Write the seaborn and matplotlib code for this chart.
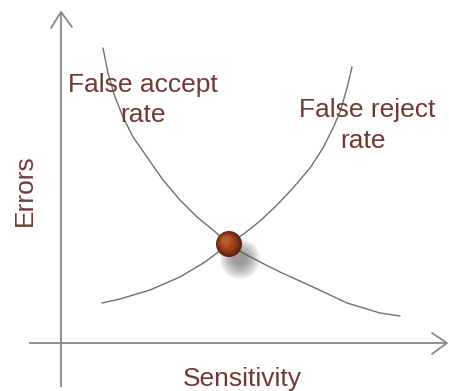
import numpy as np
import pandas as pd
import matplotlib
matplotlib.use("Agg")
import matplotlib.pyplot as plt
import seaborn as sns

# ---- data (schematic values) ----
far_sensitivity = [42, 47, 54, 62, 72, 86, 102, 119, 136, 152, 168, 182, 201, 219, 252, 286, 319, 339]
far_errors      = [295, 270, 246, 226, 206, 186, 163, 143, 126, 113, 99, 90, 80, 71, 56, 40, 30, 27]

frr_sensitivity = [41, 59, 89, 119, 144, 156, 168, 184, 199, 216, 232, 249, 262, 272, 279, 286, 291]
frr_errors      = [40, 44, 53, 66, 81, 90, 99, 110, 122, 138, 155, 175, 195, 215, 231, 255, 276]

eer_sensitivity = [168]
eer_errors = [99]

far_label = ["False accept", "rate"]
frr_label = ["False reject", "rate"]
x_label = "Sensitivity"
y_label = "Errors"

sns.set_style("white")
plt.rcParams["font.family"] = ["Liberation Sans", "DejaVu Sans"]

fig = plt.figure(figsize=(4.49, 3.91), dpi=100)
ax = fig.add_axes([0, 0, 1, 1])
ax.set_xlim(-61, 388)
ax.set_ylim(-48, 343)
ax.axis("off")

axis_color = "#8c8682"
curve_color = "#6f6f6f"
text_color = "#703a33"

# axes with open arrowheads
ax.plot([0, 0], [-44, 331], color=axis_color, lw=1.3, solid_capstyle="butt")
ax.plot([-32, 386], [0, 0], color=axis_color, lw=1.3, solid_capstyle="butt")
ax.plot([-10, 0, 11], [315, 331, 316], color=axis_color, lw=1.3)
ax.plot([371, 386, 371], [10, 0, -11], color=axis_color, lw=1.3)

far_df = pd.DataFrame({"Sensitivity": far_sensitivity, "Errors": far_errors})
frr_df = pd.DataFrame({"Sensitivity": frr_sensitivity, "Errors": frr_errors})
sns.lineplot(data=far_df, x="Sensitivity", y="Errors", sort=False, estimator=None,
             color=curve_color, lw=1.0, ax=ax)
sns.lineplot(data=frr_df, x="Sensitivity", y="Errors", sort=False, estimator=None,
             color=curve_color, lw=1.0, ax=ax)

# soft shadow of the ball
ex = np.array(eer_sensitivity)
ey = np.array(eer_errors)
for r in np.linspace(20, 6, 10):
    s = (2 * r * 0.72) ** 2
    sns.scatterplot(x=ex + 11, y=ey - 15, s=s, color="#555555", alpha=0.08,
                    edgecolor="none", ax=ax, legend=False, zorder=3)

# shaded ball at the equal error point
ball_layers = [(13, 0, 0, "#5a2210"), (11.5, -0.8, 0.8, "#7a2e14"),
               (9.5, -1.5, 1.5, "#933b18"), (7, -2.3, 2.3, "#a9491f"),
               (4.5, -3, 3, "#b95a2a")]
for r, dx, dy, c in ball_layers:
    sns.scatterplot(x=ex + dx, y=ey + dy, s=(2 * r * 0.72) ** 2, color=c,
                    edgecolor="none", ax=ax, legend=False, zorder=4)

fs = 19
ax.text(82, 251, far_label[0], ha="center", va="baseline", fontsize=fs, color=text_color)
ax.text(82, 221, far_label[1], ha="center", va="baseline", fontsize=fs, color=text_color)
ax.text(306, 226, frr_label[0], ha="center", va="baseline", fontsize=fs, color=text_color)
ax.text(302, 195, frr_label[1], ha="center", va="baseline", fontsize=fs, color=text_color)
ax.text(181, -43, x_label, ha="center", va="baseline", fontsize=fs, color=text_color)
ax.text(-36, 153, y_label, ha="center", va="center", rotation=90, fontsize=fs, color=text_color)

fig.savefig("out.png", dpi=100, facecolor="white")
